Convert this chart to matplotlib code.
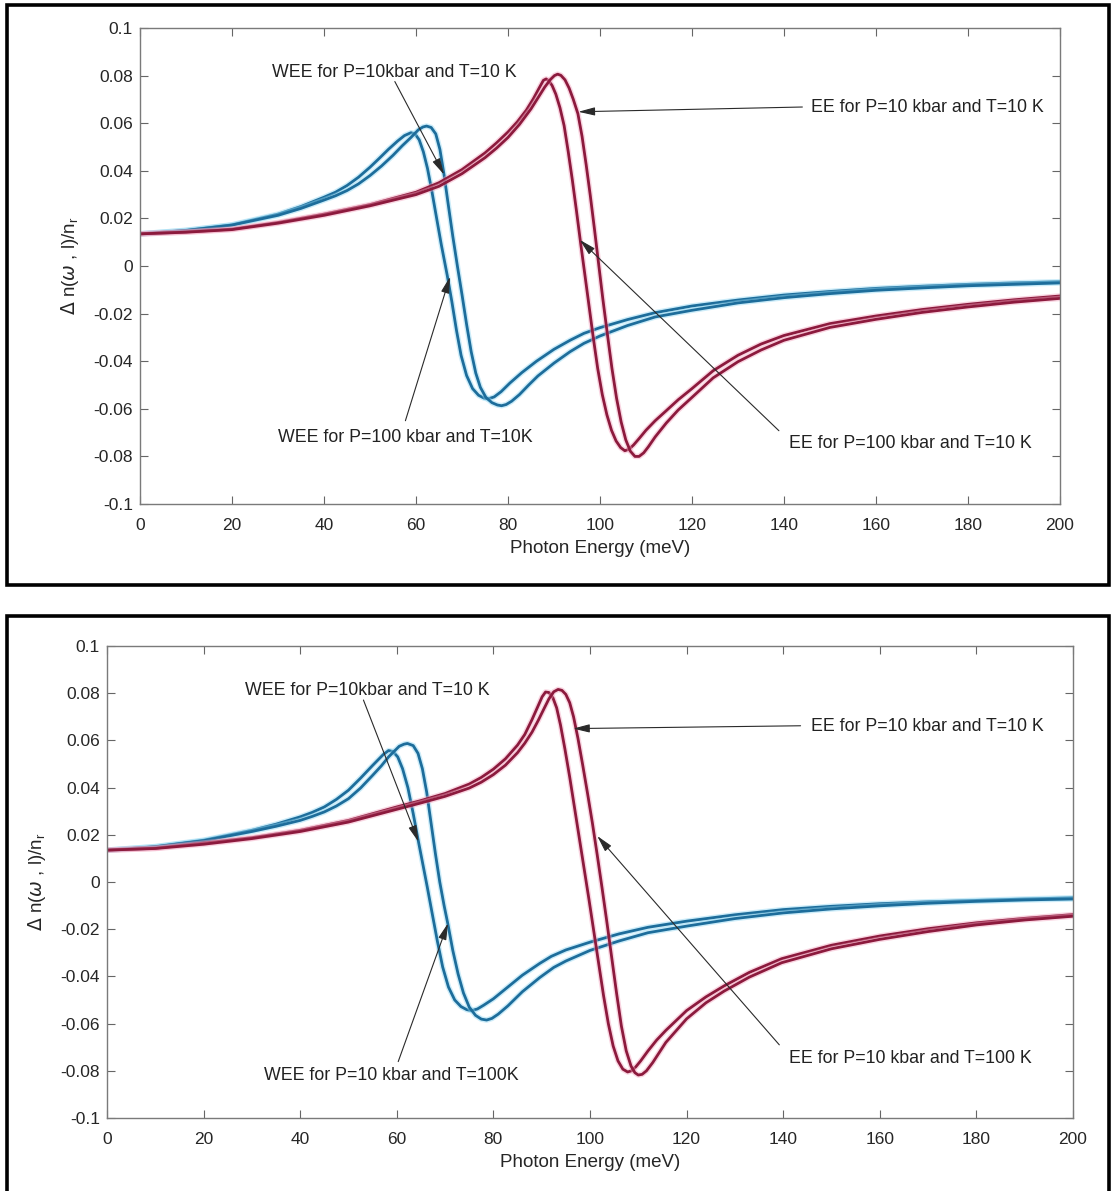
import matplotlib
matplotlib.use('Agg')
import matplotlib.pyplot as plt
from matplotlib.patches import Rectangle
import matplotlib.patheffects as pe

plt.rcParams['font.family'] = ['Liberation Sans', 'DejaVu Sans']

# ---- data ----
xticks = [0, 20, 40, 60, 80, 100, 120, 140, 160, 180, 200]
yticks = [-0.1, -0.08, -0.06, -0.04, -0.02, 0, 0.02, 0.04, 0.06, 0.08, 0.1]
ytick_labels = ['-0.1', '-0.08', '-0.06', '-0.04', '-0.02', '0', '0.02', '0.04', '0.06', '0.08', '0.1']

# top panel : WEE (blue) and EE (red), two curves each
wee_top_a_x = [0, 10, 20, 30, 35, 40, 42.5, 45, 47.5, 50, 52, 54, 56, 57.5, 58.9, 59.8, 60.7, 61.6, 62.5, 63.4, 64.4, 65.5,
               66.8, 67.8, 68.8, 69.8, 71, 72.3, 73.6, 74.8, 75.7, 77, 78.5, 80.4, 83, 86.2, 90, 93.5, 96.5, 100, 106, 112, 120,
               130, 140, 150, 160, 170, 180, 190, 200]
wee_top_a_y = [0.0135, 0.0150, 0.0173, 0.0218, 0.0250, 0.0289, 0.0310, 0.0338, 0.0373, 0.0415, 0.0452, 0.0490, 0.0525, 0.0548,
               0.0560, 0.0555, 0.0530, 0.0480, 0.0410, 0.0320, 0.0210, 0.0090, -0.0040, -0.0150, -0.0270, -0.0375, -0.0460,
               -0.0515, -0.0543, -0.0555, -0.0558, -0.0550, -0.0528, -0.0492, -0.0448, -0.0400, -0.0350, -0.0312, -0.0283,
               -0.0259, -0.0225, -0.0196, -0.0168, -0.0143, -0.0122, -0.0107, -0.0094, -0.0085, -0.0077, -0.0071, -0.0066]

wee_top_b_x = [0, 10, 20, 30, 35, 40, 42.5, 45, 47.5, 50, 52.5, 55, 57, 58.9, 60.5, 61.5, 62.3, 63.3, 64.3, 65.2, 66.1, 67, 68,
               69, 70, 71, 72, 73, 74, 75.2, 76.5, 77.7, 78.6, 79.6, 80.8, 82.5, 84.5, 86.5, 90, 93.5, 96.5, 100, 106, 112, 120,
               130, 140, 150, 160, 170, 180, 190, 200]
wee_top_b_y = [0.0135, 0.0149, 0.0172, 0.0213, 0.0242, 0.0277, 0.0295, 0.0317, 0.0345, 0.0380, 0.0420, 0.0465, 0.0505, 0.0540,
               0.0572, 0.0584, 0.0588, 0.0582, 0.0555, 0.0490, 0.0384, 0.0260, 0.0125, 0.0000, -0.0120, -0.0245, -0.0360,
               -0.0450, -0.0510, -0.0552, -0.0574, -0.0584, -0.0587, -0.0582, -0.0568, -0.0540, -0.0500, -0.0462, -0.0408,
               -0.0360, -0.0325, -0.0294, -0.0250, -0.0214, -0.0186, -0.0155, -0.0133, -0.0116, -0.0102, -0.0092, -0.0083,
               -0.0077, -0.0071]

ee_top_a_x = [0, 10, 20, 30, 40, 50, 60, 65, 70, 75, 77.5, 80, 82, 84, 85.5, 86.7, 87.7, 88.3, 88.9, 89.6, 90.4, 91.3, 92.2,
              93.1, 94, 94.9, 95.8, 96.6, 97.5, 98.5, 99.5, 100.5, 101.5, 102.5, 103.5, 104.5, 105.4, 106.3, 107.3, 108.5, 110,
              112, 114.4, 117, 120, 124.6, 130, 135, 140, 150, 160, 170, 180, 190, 200]
ee_top_a_y = [0.0135, 0.0143, 0.0155, 0.0183, 0.0218, 0.0258, 0.0310, 0.0350, 0.0405, 0.0475, 0.0517, 0.0563, 0.0605, 0.0655,
              0.0702, 0.0745, 0.0780, 0.0786, 0.0778, 0.0758, 0.0722, 0.0665, 0.0590, 0.0480, 0.0360, 0.0230, 0.0095, -0.0020,
              -0.0150, -0.0295, -0.0430, -0.0540, -0.0625, -0.0690, -0.0735, -0.0763, -0.0776, -0.0770, -0.0752, -0.0725,
              -0.0690, -0.0650, -0.0608, -0.0562, -0.0515, -0.0440, -0.0375, -0.0328, -0.0292, -0.0242, -0.0210, -0.0183,
              -0.0161, -0.0142, -0.0126]

ee_top_b_x = [0, 10, 20, 30, 40, 50, 60, 65, 70, 75, 77.5, 80, 82.5, 85, 86.7, 88, 89.2, 90.1, 90.8, 91.5, 92.4, 93.3, 94.2,
              95.2, 96.1, 97, 97.9, 98.8, 99.7, 100.6, 101.6, 102.6, 103.6, 104.6, 105.6, 106.6, 107.6, 108.5, 109.5, 110.5,
              112, 114.4, 117, 120, 124.6, 130, 135, 140, 150, 160, 170, 180, 190, 200]
ee_top_b_y = [0.0135, 0.0142, 0.0153, 0.0180, 0.0213, 0.0253, 0.0300, 0.0335, 0.0388, 0.0455, 0.0495, 0.0540, 0.0595, 0.0660,
              0.0712, 0.0752, 0.0783, 0.0800, 0.0806, 0.0801, 0.0782, 0.0747, 0.0700, 0.0640, 0.0545, 0.0425, 0.0295, 0.0155,
              0.0010, -0.0135, -0.0285, -0.0430, -0.0555, -0.0655, -0.0730, -0.0778, -0.0800, -0.0800, -0.0785, -0.0760,
              -0.0718, -0.0660, -0.0605, -0.0552, -0.0470, -0.0402, -0.0353, -0.0312, -0.0258, -0.0224, -0.0195, -0.0172,
              -0.0152, -0.0136]

# bottom panel
wee_bot_a_x = [0, 10, 20, 30, 35, 40, 42.5, 45, 47.5, 50, 52.5, 55, 57.2, 58.3, 59.2, 60.2, 61.2, 62.3, 63.4, 64.5, 65.4, 66.3,
               67.3, 68.4, 69.5, 70.7, 72, 73.3, 74.5, 75.5, 76.7, 78, 80, 83, 86, 89.6, 92, 95, 100, 106, 112, 120, 130, 140,
               150, 160, 170, 180, 190, 200]
wee_bot_a_y = [0.0135, 0.0150, 0.0177, 0.0219, 0.0245, 0.0276, 0.0295, 0.0318, 0.0350, 0.0389, 0.0440, 0.0494, 0.0540, 0.0557,
               0.0553, 0.0530, 0.0480, 0.0400, 0.0290, 0.0170, 0.0075, -0.0020, -0.0130, -0.0250, -0.0360, -0.0445, -0.0500,
               -0.0528, -0.0541, -0.0545, -0.0538, -0.0522, -0.0495, -0.0445, -0.0395, -0.0345, -0.0315, -0.0288, -0.0255,
               -0.0220, -0.0192, -0.0166, -0.0139, -0.0117, -0.0103, -0.0092, -0.0084, -0.0078, -0.0072, -0.0067]

wee_bot_b_x = [0, 10, 20, 30, 35, 40, 42.5, 45, 47.5, 50, 52.5, 55, 56.8, 58.3, 60.5, 61.5, 62.2, 63.4, 64.4, 65.3, 66.2, 67.1,
               68, 68.9, 69.8, 70.6, 71.6, 72.7, 73.8, 75, 76.3, 77.5, 78.6, 79.7, 81, 83, 86, 89.6, 92.5, 95, 100, 106, 112,
               120, 130, 140, 150, 160, 170, 180, 190, 200]
wee_bot_b_y = [0.0135, 0.0149, 0.0175, 0.0214, 0.0236, 0.0261, 0.0278, 0.0297, 0.0322, 0.0353, 0.0398, 0.0452, 0.0492, 0.0530,
               0.0575, 0.0584, 0.0587, 0.0578, 0.0545, 0.0480, 0.0380, 0.0250, 0.0120, 0.0000, -0.0100, -0.0180, -0.0290,
               -0.0390, -0.0470, -0.0530, -0.0565, -0.0581, -0.0585, -0.0578, -0.0560, -0.0525, -0.0465, -0.0405, -0.0362,
               -0.0335, -0.0290, -0.0250, -0.0215, -0.0187, -0.0155, -0.0131, -0.0114, -0.0101, -0.0090, -0.0082, -0.0076,
               -0.0072]

ee_bot_a_x = [0, 10, 20, 30, 40, 50, 60, 65, 70, 75, 77.5, 80, 82.5, 85, 86.5, 88, 89.3, 90.1, 90.8, 91.5, 92.3, 93.1, 93.9,
              94.8, 95.8, 96.8, 97.8, 98.8, 99.8, 100.8, 101.8, 102.8, 103.8, 104.8, 105.8, 106.8, 107.8, 108.6, 109.5, 110.5,
              112, 113.8, 115.7, 120, 124, 127.8, 133, 139.7, 150, 160, 170, 180, 190, 200]
ee_bot_a_y = [0.0135, 0.0143, 0.0165, 0.0188, 0.0219, 0.0261, 0.0318, 0.0345, 0.0375, 0.0415, 0.0443, 0.0478, 0.0522, 0.0580,
              0.0625, 0.0688, 0.0748, 0.0785, 0.0805, 0.0803, 0.0782, 0.0738, 0.0665, 0.0565, 0.0445, 0.0315, 0.0185, 0.0055,
              -0.0075, -0.0210, -0.0345, -0.0480, -0.0600, -0.0695, -0.0758, -0.0793, -0.0805, -0.0800, -0.0783, -0.0758,
              -0.0716, -0.0670, -0.0629, -0.0545, -0.0487, -0.0440, -0.0383, -0.0325, -0.0268, -0.0229, -0.0198, -0.0173,
              -0.0154, -0.0138]

ee_bot_b_x = [0, 10, 20, 30, 40, 50, 60, 65, 70, 75, 77.5, 80, 82.5, 85, 86.5, 88, 89.3, 90.5, 91.5, 92.5, 93.4, 94.2, 95,
              95.8, 96.6, 97.5, 98.5, 99.5, 100.5, 101.5, 102.5, 103.5, 104.5, 105.5, 106.5, 107.5, 108.5, 109.3, 110, 110.8,
              111.7, 113, 115.7, 120, 124, 127.8, 133, 139.7, 150, 160, 170, 180, 190, 200]
ee_bot_b_y = [0.0135, 0.0142, 0.0160, 0.0184, 0.0214, 0.0254, 0.0308, 0.0335, 0.0363, 0.0398, 0.0423, 0.0455, 0.0495, 0.0548,
              0.0588, 0.0635, 0.0685, 0.0735, 0.0776, 0.0806, 0.0816, 0.0812, 0.0795, 0.0760, 0.0700, 0.0610, 0.0495, 0.0375,
              0.0250, 0.0115, -0.0025, -0.0170, -0.0320, -0.0470, -0.0610, -0.0715, -0.0780, -0.0808, -0.0818, -0.0815,
              -0.0800, -0.0765, -0.0680, -0.0580, -0.0512, -0.0462, -0.0403, -0.0342, -0.0283, -0.0243, -0.0210, -0.0182,
              -0.0161, -0.0145]

blue = '#1d6d9b'
red = '#8c1a3d'
ylabel = r'$\Delta$ n($\omega$ , l)/n$_\mathregular{r}$'


def style(ax):
    ax.set_xlim(0, 200)
    ax.set_ylim(-0.1, 0.1)
    ax.set_xticks(xticks)
    ax.set_yticks(yticks, labels=ytick_labels)
    ax.tick_params(direction='in', top=True, right=True, length=6, width=0.8,
                   color='#666666', labelcolor='#262626', labelsize=12.5)
    ax.tick_params(axis='x', pad=10)
    ax.tick_params(axis='y', pad=5)
    for s in ax.spines.values():
        s.set_color('#7a7a7a')
        s.set_linewidth(1.0)
    ax.set_xlabel('Photon Energy (meV)', fontsize=13.5, color='#262626', labelpad=5)
    ax.set_ylabel(ylabel, fontsize=13.5, color='#262626', labelpad=9)


def curve(ax, x, y, c, glow):
    ax.plot(x, y, color=c, lw=2.0,
            path_effects=[pe.Stroke(linewidth=4.0, foreground=glow, alpha=0.45), pe.Normal()])


def note(ax, txt, tpos, tail, tip):
    ax.text(tpos[0], tpos[1], txt, fontsize=12.8, color='#222222', ha='left', va='center')
    ax.annotate('', xy=tip, xytext=tail,
                arrowprops=dict(arrowstyle='-|>,head_length=1.0,head_width=0.25', color='#2a2a2a',
                                lw=0.8, shrinkA=0, shrinkB=0))


fig = plt.figure(figsize=(11.12, 11.91), dpi=100)

ax1 = fig.add_axes([0.1259, 0.5768, 0.8273, 0.3997])
curve(ax1, wee_top_a_x, wee_top_a_y, blue, '#8fd6f2')
curve(ax1, wee_top_b_x, wee_top_b_y, blue, '#8fd6f2')
curve(ax1, ee_top_a_x, ee_top_a_y, red, '#f2a2bd')
curve(ax1, ee_top_b_x, ee_top_b_y, red, '#f2a2bd')
style(ax1)
note(ax1, 'WEE for P=10kbar and T=10 K', (28.7, 0.0814), (55.4, 0.0775), (66.1, 0.0384))
note(ax1, 'EE for P=10 kbar and T=10 K', (145.8, 0.0667), (144.0, 0.0668), (95.3, 0.0648))
note(ax1, 'WEE for P=100 kbar and T=10K', (30.0, -0.0720), (57.7, -0.0650), (67.4, -0.0045))
note(ax1, 'EE for P=100 kbar and T=10 K', (141.0, -0.0747), (138.9, -0.0692), (95.6, 0.0110))

ax2 = fig.add_axes([0.0962, 0.0613, 0.8687, 0.3963])
curve(ax2, wee_bot_a_x, wee_bot_a_y, blue, '#8fd6f2')
curve(ax2, wee_bot_b_x, wee_bot_b_y, blue, '#8fd6f2')
curve(ax2, ee_bot_a_x, ee_bot_a_y, red, '#f2a2bd')
curve(ax2, ee_bot_b_x, ee_bot_b_y, red, '#f2a2bd')
style(ax2)
note(ax2, 'WEE for P=10kbar and T=10 K', (28.6, 0.0813), (53.1, 0.0771), (64.5, 0.0170))
note(ax2, 'EE for P=10 kbar and T=10 K', (145.7, 0.0658), (143.6, 0.0662), (96.5, 0.0650))
note(ax2, 'WEE for P=10 kbar and T=100K', (32.6, -0.0818), (60.3, -0.0761), (70.6, -0.0175))
note(ax2, 'EE for P=10 kbar and T=100 K', (141.2, -0.0747), (139.2, -0.0690), (101.5, 0.0195))

# black frames round each panel
fig.add_artist(Rectangle((0.0063, 0.5088), 0.9910, 0.4870, transform=fig.transFigure,
                         fill=False, lw=2.6, ec='black'))
fig.add_artist(Rectangle((0.0063, -0.0100), 0.9910, 0.4928, transform=fig.transFigure,
                         fill=False, lw=2.6, ec='black'))

fig.savefig('out.png', dpi=100)
